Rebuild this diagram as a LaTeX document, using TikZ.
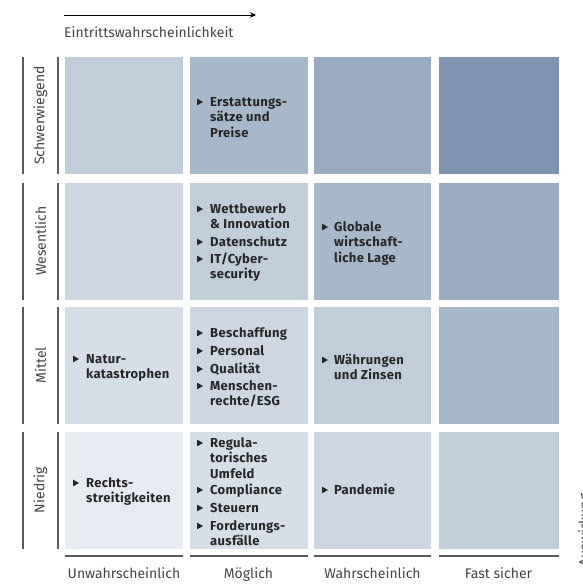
\documentclass[tikz,border=0pt]{standalone}
\usepackage{fontspec}
\setmainfont{Fira Sans}
\usetikzlibrary{arrows.meta}
\definecolor{lA}{HTML}{E6EBF1}
\definecolor{lB}{HTML}{D6DEE7}
\definecolor{lC}{HTML}{CDD6E1}
\definecolor{lD}{HTML}{C2CDDA}
\definecolor{lE}{HTML}{A8B8CB}
\definecolor{lF}{HTML}{99ACC2}
\definecolor{lG}{HTML}{7E93B0}
\definecolor{axisgray}{HTML}{5A5A5A}
\definecolor{labelgray}{HTML}{444444}
\definecolor{itemtext}{HTML}{262626}
\newcommand\bul[2]{\fill[itemtext] (#1,#2-3.4) -- (#1+6,#2) -- (#1,#2+3.4) -- cycle;}
\newcommand\ml[1]{\begin{tabular}[t]{@{}l@{}}#1\end{tabular}}
\begin{document}
\begin{tikzpicture}[x=1pt,y=-1pt,
  cell/.style={anchor=north west, inner sep=0pt, outer sep=0pt, minimum height=117pt},
  item/.style={anchor=base west, inner sep=0pt, text=itemtext, font=\addfontfeature{LetterSpace=2.5}\bfseries\fontsize{13}{15.5}\selectfont},
  axlab/.style={text=labelgray, font=\fontsize{14}{16}\selectfont, inner sep=0pt},
  axline/.style={draw=axisgray, line width=1.4pt}]
\useasboundingbox (0,0) rectangle (583,587);
% cells
\node[cell, fill=lD, minimum width=118pt] (c11) at (65,57) {};
\node[cell, fill=lE, minimum width=118pt] (c12) at (189.5,57) {};
\node[cell, fill=lF, minimum width=117pt] (c13) at (314,57) {};
\node[cell, fill=lG, minimum width=120pt] (c14) at (438.5,57) {};
\node[cell, fill=lC, minimum width=118pt] (c21) at (65,182.5) {};
\node[cell, fill=lD, minimum width=118pt] (c22) at (189.5,182.5) {};
\node[cell, fill=lE, minimum width=117pt] (c23) at (314,182.5) {};
\node[cell, fill=lF, minimum width=120pt] (c24) at (438.5,182.5) {};
\node[cell, fill=lB, minimum width=118pt] (c31) at (65,307) {};
\node[cell, fill=lC, minimum width=118pt] (c32) at (189.5,307) {};
\node[cell, fill=lD, minimum width=117pt] (c33) at (314,307) {};
\node[cell, fill=lE, minimum width=120pt] (c34) at (438.5,307) {};
\node[cell, fill=lA, minimum width=118pt] (c41) at (65,431.5) {};
\node[cell, fill=lB, minimum width=118pt] (c42) at (189.5,431.5) {};
\node[cell, fill=lC, minimum width=117pt] (c43) at (314,431.5) {};
\node[cell, fill=lD, minimum width=120pt] (c44) at (438.5,431.5) {};
% left axis lines and labels
\foreach \r/\t in {1/Schwerwiegend,2/Wesentlich,3/Mittel,4/Niedrig}{
  \draw[axline] (c\r1.north west -| 23,0) -- (c\r1.south west -| 23,0);
  \draw[axline] (c\r1.north west -| 58,0) -- (c\r1.south west -| 58,0);
  \node[axlab, rotate=90] (ly\r) at (c\r1.west -| 40.5,0) {\t};
}
% bottom axis lines and labels
\foreach \c/\t in {1/Unwahrscheinlich,2/Möglich,3/Wahrscheinlich,4/Fast sicher}{
  \draw[axline] (c4\c.south west |- 0,556) -- (c4\c.south east |- 0,556);
  \node[axlab, anchor=base] (lx\c) at (c4\c.south |- 0,578) {\t};
}
% top arrow
\coordinate (a0) at (64,15);
\coordinate (a1) at (256,15);
\draw[line width=0.9pt, -{Stealth[length=6pt,width=5.5pt]}] (a0) -- (a1);
\node[axlab, anchor=base west] (ew) at (64,37) {Eintrittswahrscheinlichkeit};
% partially visible right label
\begin{scope}
\clip (0,0) rectangle (583,587);
\node[axlab, rotate=90, anchor=base] (aw) at (589,530) {Auswirkung};
\end{scope}
% items
\bul{197}{102}\node[item] (i1) at (210,106) {\ml{Erstattungs-\\sätze und\\Preise}};
\bul{197}{209}\node[item] (i2) at (210,213) {\ml{Wettbewerb\\\& Innovation}};
\bul{197}{242}\node[item] (i3) at (210,246) {\ml{Datenschutz}};
\bul{197}{259}\node[item] (i4) at (210,263) {\ml{IT/Cyber-\\security}};
\bul{322}{227}\node[item] (i5) at (334,231) {\ml{Globale\\wirtschaft-\\liche Lage}};
\bul{73}{359}\node[item] (i6) at (86,363) {\ml{Natur-\\katastrophen}};
\bul{197}{333}\node[item] (i7) at (210,337) {\ml{Beschaffung}};
\bul{197}{351}\node[item] (i8) at (210,355) {\ml{Personal}};
\bul{197}{369}\node[item] (i9) at (210,373) {\ml{Qualität}};
\bul{197}{386}\node[item] (i10) at (210,390) {\ml{Menschen-\\rechte/ESG}};
\bul{322}{360}\node[item] (i11) at (334,364) {\ml{Währungen\\und Zinsen}};
\bul{73}{483}\node[item] (i12) at (86,487) {\ml{Rechts-\\streitigkeiten}};
\bul{197}{443}\node[item] (i13) at (210,447) {\ml{Regula-\\torisches\\Umfeld}};
\bul{197}{490}\node[item] (i14) at (210,494) {\ml{Compliance}};
\bul{197}{508}\node[item] (i15) at (210,512) {\ml{Steuern}};
\bul{197}{526}\node[item] (i16) at (210,530) {\ml{Forderungs-\\ausfälle}};
\bul{322}{490}\node[item] (i17) at (334,494) {\ml{Pandemie}};
\end{tikzpicture}
\end{document}
